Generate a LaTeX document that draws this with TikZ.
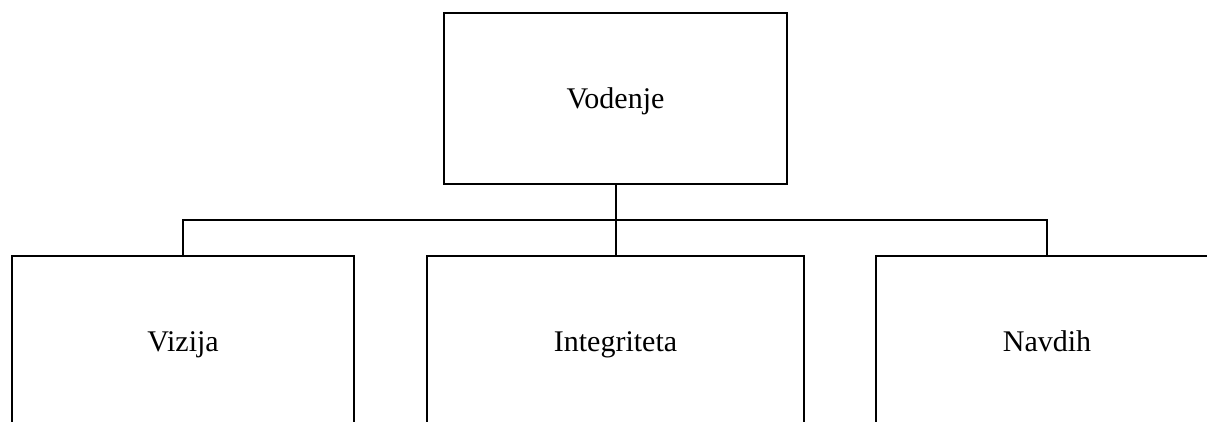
\documentclass[tikz,border=0pt]{standalone}
\usepackage{fontspec}
\setmainfont{Liberation Serif}
\begin{document}
\begin{tikzpicture}[x=1pt,y=-1pt,
  box/.style={draw=black,line width=2pt,fill=white,inner sep=0pt,font=\fontsize{30}{36}\selectfont,minimum height=171pt,text height=20pt,text depth=0pt},
  conn/.style={draw=black,line width=2pt}]
\useasboundingbox (0,0) rectangle (1207,421);
\clip (0,0) rectangle (1207,421);
\node[box,minimum width=343pt] (top) at (615.5,98.5) {Vodenje};
\node[box,minimum width=342pt] (left) at (183,341.5) {Vizija};
\node[box,minimum width=377pt] (mid) at (615.5,341.5) {Integriteta};
\node[box,minimum width=342pt] (right) at (1047,341.5) {Navdih};
\coordinate (bus) at (615.5,220);
\draw[conn] (left.north) |- (bus) -| (right.north);
\draw[conn] (top.south) -- (mid.north);
\end{tikzpicture}
\end{document}
